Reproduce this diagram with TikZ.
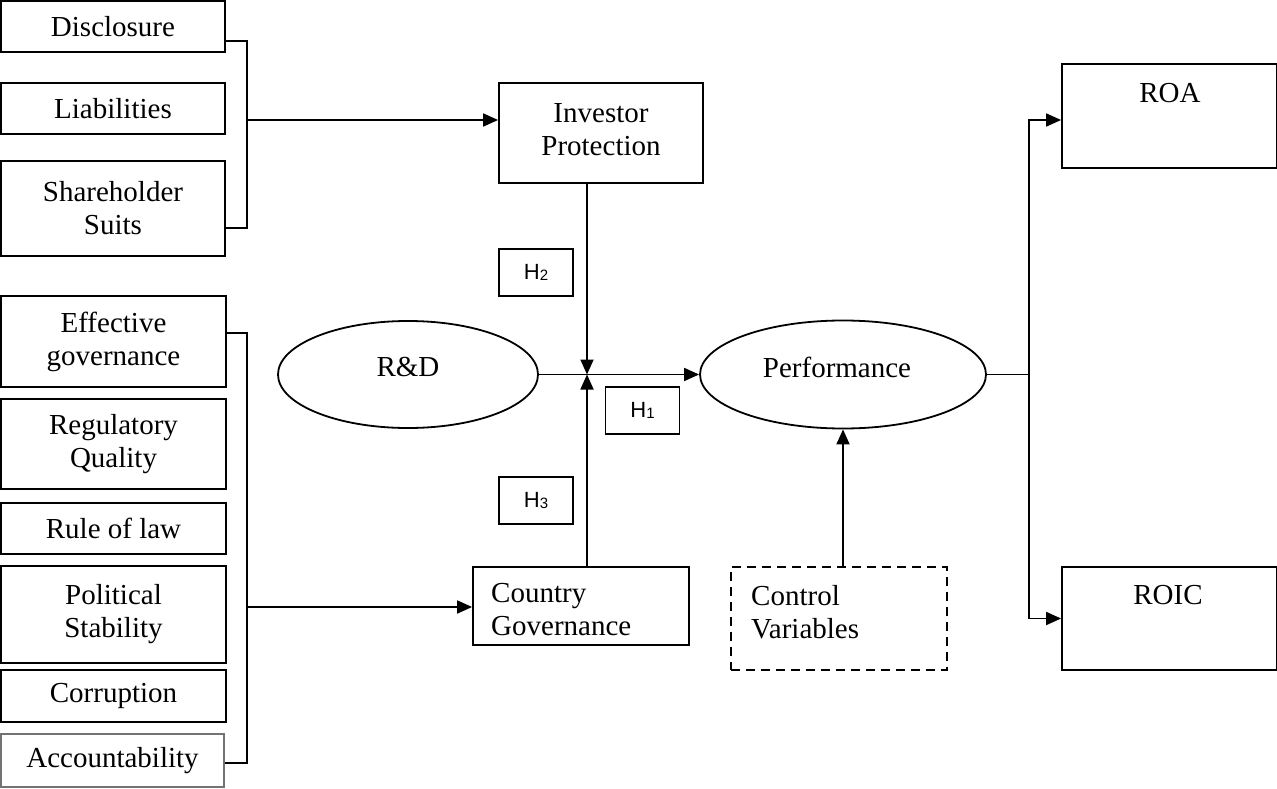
\documentclass[tikz,border=0pt]{standalone}
\usepackage{fontspec}
\setmainfont{Liberation Serif}
\newfontfamily\hfont{Liberation Sans}
\usetikzlibrary{arrows.meta,shapes.geometric,calc}
\begin{document}
\begin{tikzpicture}[x=1pt,y=-1pt,
  every node/.style={font=\fontsize{29}{33}\selectfont},
  lw/.style={line width=1.8pt},
  bx/.style={draw, lw, rectangle, inner sep=0pt, align=center},
  hbx/.style={draw, lw, rectangle, inner sep=0pt, minimum width=74pt, minimum height=47pt, font=\hfont\fontsize{22}{22}\selectfont},
  ell/.style={draw, lw, ellipse, inner sep=0pt},
  conn/.style={lw},
  arr/.style={lw, -{Triangle[length=15pt,width=13pt]}},
  txt/.style={inner sep=0pt, align=left}
]
\useasboundingbox (0,0) rectangle (1277,789);

% left upper group
\node[bx, minimum width=224pt, minimum height=51pt] (disc) at (113,26.5) {Disclosure};
\node[bx, minimum width=224pt, minimum height=51pt] (liab) at (113,108.5) {Liabilities};
\node[bx, minimum width=224pt, minimum height=95pt] (share) at (113,208.5) {Shareholder\\Suits};

% left lower group
\node[bx, minimum width=225pt, minimum height=91pt] (effg) at (113.5,341.5) {Effective\\governance};
\node[bx, minimum width=225pt, minimum height=90pt] (regq) at (113.5,444) {Regulatory\\Quality};
\node[bx, minimum width=225pt, minimum height=51pt] (rule) at (113.5,528.5) {Rule of law};
\node[bx, minimum width=225pt, minimum height=97pt] (polit) at (113.5,614.5) {Political\\Stability};
\node[bx, minimum width=225pt, minimum height=52pt] (corr) at (113.5,696) {Corruption};
\node[bx, draw=black!55, line width=1.2pt, minimum width=223pt, minimum height=53pt] (acct) at (112.5,760.5) {Accountability};

% centre
\node[bx, minimum width=204pt, minimum height=100pt] (ip) at (601,133) {};
\node[txt, align=center] (ipt) at (601,130) {Investor\\Protection};
\node[hbx] (h2) at (536,272.5) {H\raisebox{-1pt}{\fontsize{15}{15}\selectfont 2}};
\node[hbx] (h1) at (642.5,410.5) {H\raisebox{-1pt}{\fontsize{15}{15}\selectfont 1}};
\node[hbx] (h3) at (536,500.5) {H\raisebox{-1pt}{\fontsize{15}{15}\selectfont 3}};

\node[ell, minimum width=260pt, minimum height=107pt] (rd) at (408,374.5) {};
\node[txt] (rdt) at (408,367) {R\&D};
\node[ell, minimum width=286pt, minimum height=108pt] (perf) at (843,374.5) {};
\node[txt] (perft) at (837,367) {Performance};

\node[bx, minimum width=216pt, minimum height=78pt] (cg) at (581,606) {};
\node[txt, anchor=west] (cgt) at (491,610) {Country\\Governance};
\node[draw, lw, dash pattern=on 9pt off 6pt, rectangle, inner sep=0pt, minimum width=216pt, minimum height=103pt] (cv) at (839,618.5) {};
\node[txt, anchor=west] (cvt) at (751,612) {Control\\Variables};

% right
\node[bx, minimum width=215pt, minimum height=104pt] (roa) at (1169.5,116) {};
\node[txt] (roat) at (1170,93) {ROA};
\node[bx, minimum width=215pt, minimum height=103pt] (roic) at (1169.5,618.5) {};
\node[txt] (roict) at (1168,595) {ROIC};

% connectors
\coordinate (bt) at (247,120);
\coordinate (bb) at (247,607);
\coordinate (j) at (587,374.5);
\coordinate (r) at (1029,374.5);

\draw[conn] ([yshift=-14.5pt]disc.east) -| (bt) |- ([yshift=-19.5pt]share.east);
\draw[arr] (bt) -- (bt -| ip.west);
\draw[conn] ([yshift=8.5pt]effg.east) -| (bb) |- ([yshift=-2.5pt]acct.east);
\draw[arr] (bb) -- (bb -| cg.west);

\draw[arr] (j |- ip.south) -- (j);
\draw[arr] (j |- cg.north) -- (j);
\draw[arr] (rd.east) -- (perf.west);
\draw[arr] (perf.south |- cv.north) -- (perf.south);

\draw[conn] (perf.east) -- (r);
\draw[arr] (r) |- ([yshift=-4pt]roa.west);
\draw[arr] (r) |- (roic.west);
\end{tikzpicture}
\end{document}
